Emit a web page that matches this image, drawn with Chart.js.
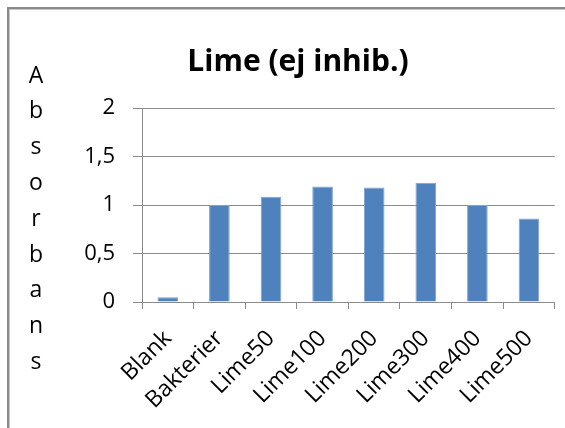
<!DOCTYPE html>
<html>
<head>
<meta charset="utf-8">
<style>
  html, body { margin: 0; padding: 0; background: #fff; }
  #wrap { width: 565px; height: 428px; position: relative; }
</style>
<script src="https://cdn.jsdelivr.net/npm/chart.js@4.4.0/dist/chart.umd.min.js"></script>
</head>
<body>
<div id="wrap"><canvas id="c" width="565" height="428"></canvas></div>
<script>
// Absorbance per sample
const categories = ['Blank', 'Bakterier', 'Lime50', 'Lime100', 'Lime200', 'Lime300', 'Lime400', 'Lime500'];
const absorbans = [0.05, 1.0, 1.085, 1.19, 1.18, 1.23, 1.0, 0.86];
const yTicks = [0, 0.5, 1, 1.5, 2];
const chartTitle = 'Lime (ej inhib.)';
const yTitle = 'Absorbans';

const FONT = '"Open Sans", Lato, sans-serif';

// Frame, title and the stacked vertical axis title
const decor = {
  id: 'decor',
  beforeDraw(chart) {
    const ctx = chart.ctx;
    ctx.save();
    ctx.fillStyle = '#fff';
    ctx.fillRect(0, 0, chart.width, chart.height);
    ctx.strokeStyle = '#8a8a8a';
    ctx.lineWidth = 2;
    ctx.strokeRect(8, 8, chart.width + 20, chart.height + 20);
    ctx.strokeStyle = '#c8c8c8';
    ctx.lineWidth = 1;
    ctx.strokeRect(9.5, 9.5, chart.width + 20, chart.height + 20);
    ctx.restore();
  },
  afterDraw(chart) {
    const ctx = chart.ctx;
    ctx.save();
    ctx.fillStyle = '#000';
    ctx.textAlign = 'center';
    ctx.textBaseline = 'middle';
    ctx.font = 'bold 30px ' + FONT;
    ctx.fillText(chartTitle, 298, 62);
    ctx.font = '23px ' + FONT;
    const letters = yTitle.split('');
    const top = 76, step = 35.8;
    letters.forEach((ch, i) => ctx.fillText(ch, 36, top + i * step));
    ctx.restore();
  }
};

new Chart(document.getElementById('c'), {
  type: 'bar',
  data: {
    labels: categories,
    datasets: [{
      data: absorbans,
      backgroundColor: '#4f81bd',
      borderColor: '#7ea2d2',
      borderWidth: 1,
      barPercentage: 0.4,
      categoryPercentage: 1.0
    }]
  },
  options: {
    responsive: false,
    animation: false,
    devicePixelRatio: 1,
    layout: { padding: { left: 0, right: 8, top: 108, bottom: 0 } },
    plugins: { legend: { display: false }, tooltip: { enabled: false } },
    scales: {
      x: {
        afterFit(scale) { scale.height = 126; },
        grid: {
          display: true,
          offset: true,
          drawOnChartArea: false,
          drawTicks: true,
          tickLength: 7,
          color: '#8a8a8a',
          lineWidth: 1
        },
        border: { display: true, color: '#8a8a8a', width: 1 },
        ticks: {
          minRotation: 45,
          maxRotation: 45,
          autoSkip: false,
          padding: 16,
          color: '#000',
          font: { family: FONT, size: 23 }
        }
      },
      y: {
        min: 0,
        max: 2,
        afterFit(scale) { scale.width = 142; },
        afterBuildTicks(scale) { scale.ticks = yTicks.map(v => ({ value: v })); },
        grid: {
          color: '#8a8a8a',
          lineWidth: 1,
          drawTicks: true,
          tickLength: 9
        },
        border: { display: true, color: '#8a8a8a', width: 1 },
        ticks: {
          padding: 18,
          color: '#000',
          font: { family: FONT, size: 22 },
          callback: v => String(v).replace('.', ',')
        }
      }
    }
  },
  plugins: [decor]
});
</script>
</body>
</html>
